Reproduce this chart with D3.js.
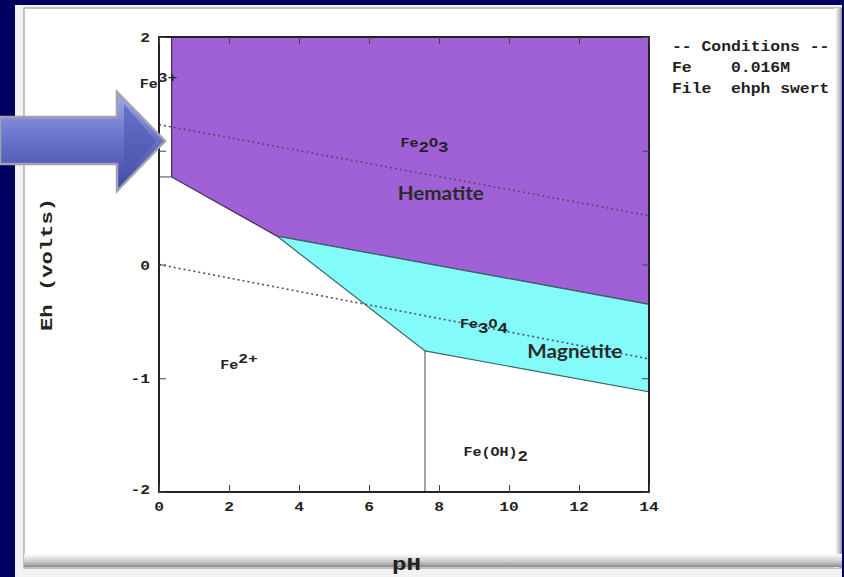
<!DOCTYPE html>
<html>
<head>
<meta charset="utf-8">
<script src="https://cdn.jsdelivr.net/npm/d3@7"></script>
<style>
  body { margin: 0; padding: 0; background: #000060; }
  svg { display: block; }
  .mono { font-family: "Liberation Mono", "DejaVu Sans Mono", monospace; font-weight: bold; fill: #222; }
  .sans { font-family: Lato, "Open Sans", sans-serif; font-weight: bold; fill: #2a2a2a; }
</style>
</head>
<body>
<div id="vis"></div>
<script>
// axis ticks
var ph_ticks = [0, 2, 4, 6, 8, 10, 12, 14];
var eh_ticks = [2, 1, 0, -1, -2];
var eh_tick_labels = ["2", "", "0", "-1", "-2"];

// stability fields [pH, Eh]
var hematite = [[0.36, 2], [14, 2], [14, -0.35], [3.37, 0.25], [0.36, 0.77]];
var magnetite = [[3.37, 0.25], [14, -0.35], [14, -1.12], [7.6, -0.76]];

// extra boundary lines
var fe3_fe2 = [[0, 0.77], [0.36, 0.77]];
var fe2_feoh2 = [[7.6, -0.76], [7.6, -2]];

// water stability limits (dotted)
var water_upper = [[0, 1.23], [14, 0.43]];
var water_lower = [[0, 0], [14, -0.83]];

// labels [pH, Eh]
var species = [
  {base: "Fe", sub: "", sup: "3+", ph: -0.55, eh: 1.55},
  {base: "Fe", sub: "2", sup: "", tail: "O", sub2: "3", ph: 6.9, eh: 1.03},
  {base: "Fe", sub: "3", sup: "", tail: "O", sub2: "4", ph: 8.6, eh: -0.56},
  {base: "Fe", sub: "", sup: "2+", ph: 1.75, eh: -0.92},
  {base: "Fe(OH)", sub: "2", sup: "", ph: 8.7, eh: -1.68}
];
var minerals = [
  {name: "Hematite", ph: 8.05, eh: 0.57, len: 86},
  {name: "Magnetite", ph: 11.88, eh: -0.82, len: 95}
];
var conditions = ["-- Conditions --", "Fe    0.016M", "File  ehph swert"];

var width = 844, height = 577;
var svg = d3.select("#vis").append("svg")
  .attr("width", width).attr("height", height);

function mono(px, py, size, sx) {
  return svg.append("text").attr("class", "mono").attr("font-size", size)
    .attr("transform", "translate(" + px + "," + py + ") scale(" + (sx || 1.25) + ",1)");
}

var defs = svg.append("defs");
var g1 = defs.append("linearGradient").attr("id", "bevelB").attr("x1", 0).attr("y1", 0).attr("x2", 0).attr("y2", 1);
g1.append("stop").attr("offset", 0).attr("stop-color", "#ffffff");
g1.append("stop").attr("offset", 0.6).attr("stop-color", "#c8c8c8");
g1.append("stop").attr("offset", 1).attr("stop-color", "#8c8c8c");
var g2 = defs.append("linearGradient").attr("id", "bevelR").attr("x1", 0).attr("y1", 0).attr("x2", 1).attr("y2", 0);
g2.append("stop").attr("offset", 0).attr("stop-color", "#ffffff");
g2.append("stop").attr("offset", 0.6).attr("stop-color", "#c8c8c8");
g2.append("stop").attr("offset", 1).attr("stop-color", "#8c8c8c");
var g3 = defs.append("linearGradient").attr("id", "arrowG").attr("x1", 0).attr("y1", 0).attr("x2", 0).attr("y2", 1);
g3.append("stop").attr("offset", 0).attr("stop-color", "#a4ace8");
g3.append("stop").attr("offset", 0.45).attr("stop-color", "#6a74cc");
g3.append("stop").attr("offset", 1).attr("stop-color", "#3e48a0");

// slide frame
svg.append("rect").attr("x", 0).attr("y", 0).attr("width", width).attr("height", height).attr("fill", "#000060");
svg.append("rect").attr("x", 15).attr("y", 5).attr("width", 829).attr("height", 572).attr("fill", "#f2f2f2");
svg.append("rect").attr("x", 24).attr("y", 8).attr("width", 818).attr("height", 560)
  .attr("fill", "#ffffff").attr("stroke", "#b0b0b0").attr("stroke-width", 1.5);

var x = d3.scaleLinear().domain([0, 14]).range([159, 649]);
var y = d3.scaleLinear().domain([-2, 2]).range([492, 37]);
var line = d3.line().x(function(d) { return x(d[0]); }).y(function(d) { return y(d[1]); });

// fields
svg.append("path").datum(hematite).attr("d", line.curve(d3.curveLinearClosed))
  .attr("fill", "#a061d6").attr("stroke", "#3e2e50").attr("stroke-width", 1.2);
svg.append("path").datum(magnetite).attr("d", line.curve(d3.curveLinearClosed))
  .attr("fill", "#84fbfb").attr("stroke", "#3a6666").attr("stroke-width", 1.2);
line.curve(d3.curveLinear);

[fe3_fe2, fe2_feoh2].forEach(function(seg) {
  svg.append("path").datum(seg).attr("d", line)
    .attr("fill", "none").attr("stroke", "#666").attr("stroke-width", 1.2);
});

[water_upper, water_lower].forEach(function(seg) {
  svg.append("path").datum(seg).attr("d", line)
    .attr("fill", "none").attr("stroke", "#5a4a6a").attr("stroke-width", 1.6)
    .attr("stroke-dasharray", "2,3");
});

// frame and inward ticks
svg.append("rect").attr("x", x(0)).attr("y", y(2)).attr("width", x(14) - x(0)).attr("height", y(-2) - y(2))
  .attr("fill", "none").attr("stroke", "#222").attr("stroke-width", 2);

function inward(g) { g.select(".domain").remove(); g.selectAll("line").attr("stroke", "#444"); }
svg.append("g").attr("transform", "translate(0," + y(-2) + ")")
  .call(d3.axisBottom(x).tickValues(ph_ticks).tickSize(-7).tickFormat("")).call(inward);
svg.append("g").attr("transform", "translate(0," + y(2) + ")")
  .call(d3.axisTop(x).tickValues(ph_ticks).tickSize(-7).tickFormat("")).call(inward);
svg.append("g").attr("transform", "translate(" + x(0) + ",0)")
  .call(d3.axisLeft(y).tickValues(eh_ticks).tickSize(-7).tickFormat("")).call(inward);
svg.append("g").attr("transform", "translate(" + x(14) + ",0)")
  .call(d3.axisRight(y).tickValues(eh_ticks).tickSize(-7).tickFormat("")).call(inward);

// tick labels
ph_ticks.forEach(function(d) {
  mono(x(d), y(-2) + 19, 13).attr("text-anchor", "middle").text(d);
});
eh_ticks.forEach(function(d, i) {
  mono(x(0) - 9, y(d) + (d === -2 ? 2 : 5), 13).attr("text-anchor", "end").text(eh_tick_labels[i]);
});

// axis titles
svg.append("text").attr("class", "mono").attr("font-size", 17)
  .attr("transform", "translate(52," + y(0) + ") rotate(-90)")
  .attr("text-anchor", "middle").attr("textLength", 133).attr("lengthAdjust", "spacingAndGlyphs")
  .text("Eh (volts)");

// species labels
species.forEach(function(s) {
  var t = mono(x(s.ph), y(s.eh), 12);
  t.append("tspan").text(s.base);
  if (s.sub) t.append("tspan").attr("dy", 5).attr("font-size", 14).text(s.sub);
  if (s.sup) t.append("tspan").attr("dy", -6).attr("font-size", 13).text(s.sup);
  if (s.tail) {
    t.append("tspan").attr("dy", -5).text(s.tail);
    t.append("tspan").attr("dy", 5).attr("font-size", 14).text(s.sub2);
  }
});
minerals.forEach(function(m) {
  svg.append("text").attr("class", "sans").attr("font-size", 19)
    .attr("x", x(m.ph) - m.len / 2).attr("y", y(m.eh))
    .attr("textLength", m.len).attr("lengthAdjust", "spacingAndGlyphs").text(m.name);
});

// conditions block
conditions.forEach(function(d, i) {
  mono(672, 51 + i * 21, 14.5, 1.13).attr("xml:space", "preserve").style("white-space", "pre").text(d);
});

// bevels
svg.append("rect").attr("x", 835).attr("y", 8).attr("width", 7).attr("height", 560).attr("fill", "url(#bevelR)");
svg.append("rect").attr("x", 24).attr("y", 554).attr("width", 818).attr("height", 13).attr("fill", "url(#bevelB)");
svg.append("rect").attr("x", 842).attr("y", 0).attr("width", 2).attr("height", height).attr("fill", "#000060");
svg.append("text").attr("class", "mono").attr("font-size", 19)
  .attr("x", 392).attr("y", 570).attr("textLength", 29).attr("lengthAdjust", "spacingAndGlyphs").text("pH");

// pointer arrow
var arrow = [[0, 117], [117, 117], [117, 92], [165, 141], [117, 191], [117, 164], [0, 164]];
svg.append("path").attr("d", "M" + arrow.join("L") + "Z")
  .attr("fill", "url(#arrowG)").attr("stroke", "#a0a0b0").attr("stroke-width", 2.5);
svg.append("path").attr("d", "M124,104 L156,141 L124,178 Z")
  .attr("fill", "#4c56b0").attr("opacity", 0.6);
</script>
</body>
</html>
